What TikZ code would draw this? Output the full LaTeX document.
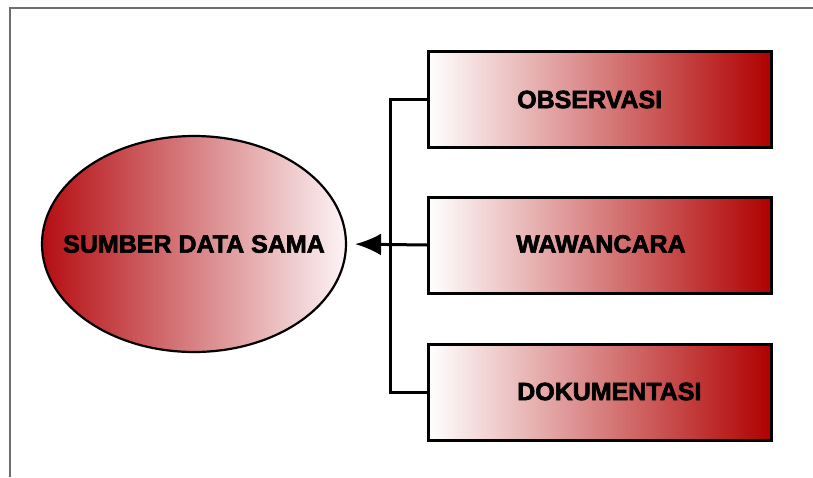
\documentclass[tikz,border=0pt]{standalone}
\usepackage{fontspec}
\setmainfont{Liberation Sans}[BoldFeatures={FakeBold=2.5}]
\usetikzlibrary{shapes.geometric,arrows.meta}
\definecolor{darkred}{RGB}{176,0,0}
\definecolor{elleft}{RGB}{180,14,18}
\definecolor{elright}{RGB}{252,244,246}
\definecolor{framegray}{RGB}{110,110,110}
\tikzset{
  boxnode/.style={draw=black, line width=3pt, minimum width=343pt, minimum height=96pt,
    inner sep=0pt, left color=white, right color=darkred},
  ellnode/.style={ellipse, draw=black, line width=2.2pt, minimum width=304pt, minimum height=216pt,
    inner sep=0pt, left color=elleft, right color=elright},
  lbl/.style={inner sep=0pt, text=black, font=\fontsize{25}{30}\selectfont\bfseries},
  conn/.style={line width=3pt, black},
}
\begin{document}
\begin{tikzpicture}[x=1pt,y=-1pt]
\useasboundingbox (0,0) rectangle (813,477);
\fill[white] (0,0) rectangle (813,477);
\draw[framegray, line width=2pt] (10,477) -- (10,8) -- (813,8);
\node[ellnode] (ell) at (194,244) {};
\node[lbl] (tell) at (194,244) {SUMBER DATA SAMA};
\node[boxnode] (b1) at (600,99.5) {};
\node[boxnode] (b2) at (600,245) {};
\node[boxnode] (b3) at (600,392.5) {};
\node[lbl, anchor=west] (t1) at (517,99.5) {OBSERVASI};
\node[lbl, anchor=west] (t2) at (516,244) {WAWANCARA};
\node[lbl, anchor=west] (t3) at (517,391.5) {DOKUMENTASI};
\coordinate (bus) at (390,0);
\draw[conn] (b1.west) -- (b1.west -| bus) -- (b3.west -| bus) -- (b3.west);
\draw[conn, -{Latex[length=26pt,width=22pt]}, shorten >=8pt] (b2.west) -- (ell.east);
\end{tikzpicture}
\end{document}
